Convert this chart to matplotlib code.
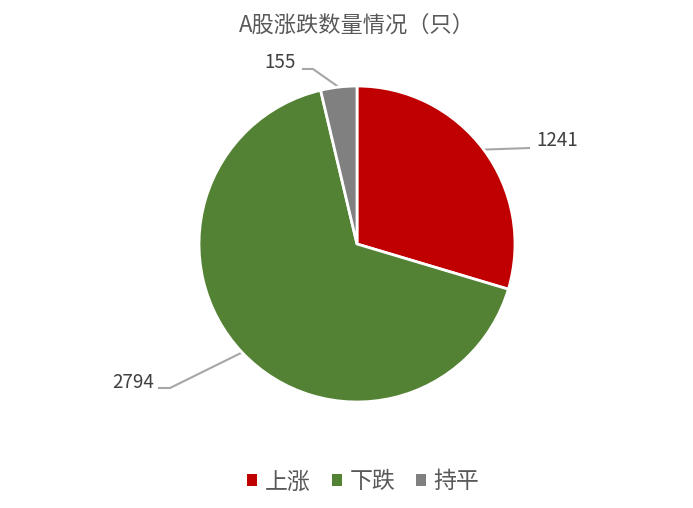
import numpy as np
import matplotlib.pyplot as plt
from matplotlib.patches import Patch

plt.rcParams['font.family'] = ['Noto Sans CJK SC', 'DejaVu Sans']

labels = ['上涨', '下跌', '持平']
values = [1241, 2794, 155]
colors = ['#C00000', '#548235', '#808080']
title = 'A股涨跌数量情况（只）'

W, H = 693, 508
fig = plt.figure(figsize=(W / 100, H / 100), dpi=100)
ax = fig.add_axes([0, 0, 1, 1])

cx, cy, r = 357, H - 244, 158
wedges, _ = ax.pie(values, colors=colors, startangle=90, counterclock=False,
                   center=(cx, cy), radius=r, frame=True,
                   wedgeprops=dict(edgecolor='white', linewidth=2))
ax.set_xlim(0, W)
ax.set_ylim(0, H)
ax.set_aspect('equal')
ax.axis('off')

# label placement (pixels from top-left), elbow point, line end near text
label_pos = [(536, 141, 'left'), (154, 383, 'right'), (296, 62, 'right')]
elbows = [(530, 148), (170, 388), (313, 69)]
ends = [(530, 148), (158, 388), (302, 69)]

for w, v, (tx, ty, ha), (ex, ey), (fx, fy) in zip(wedges, values, label_pos, elbows, ends):
    mid = np.deg2rad((w.theta1 + w.theta2) / 2)
    px, py = cx + r * np.cos(mid), cy + r * np.sin(mid)
    ax.plot([px, ex, fx], [py, H - ey, H - fy], color='#A6A6A6', lw=1.5,
            solid_capstyle='butt', zorder=0.5)
    ax.text(tx, H - ty, str(v), ha=ha, va='center', fontsize=13.5, color='#404040')

ax.text(357, H - 25, title, ha='center', va='center', fontsize=16, color='#595959')

handles = [Patch(facecolor=c, edgecolor='none', label=l) for c, l in zip(colors, labels)]
fig.legend(handles=handles, loc='center', bbox_to_anchor=(0.5245, 1 - 482 / H), ncol=3,
           frameon=False, fontsize=16.5, handlelength=0.43, handleheight=0.43,
           handletextpad=0.35, columnspacing=0.9, labelcolor='#595959')

fig.savefig('out.png', dpi=100, facecolor='white')
